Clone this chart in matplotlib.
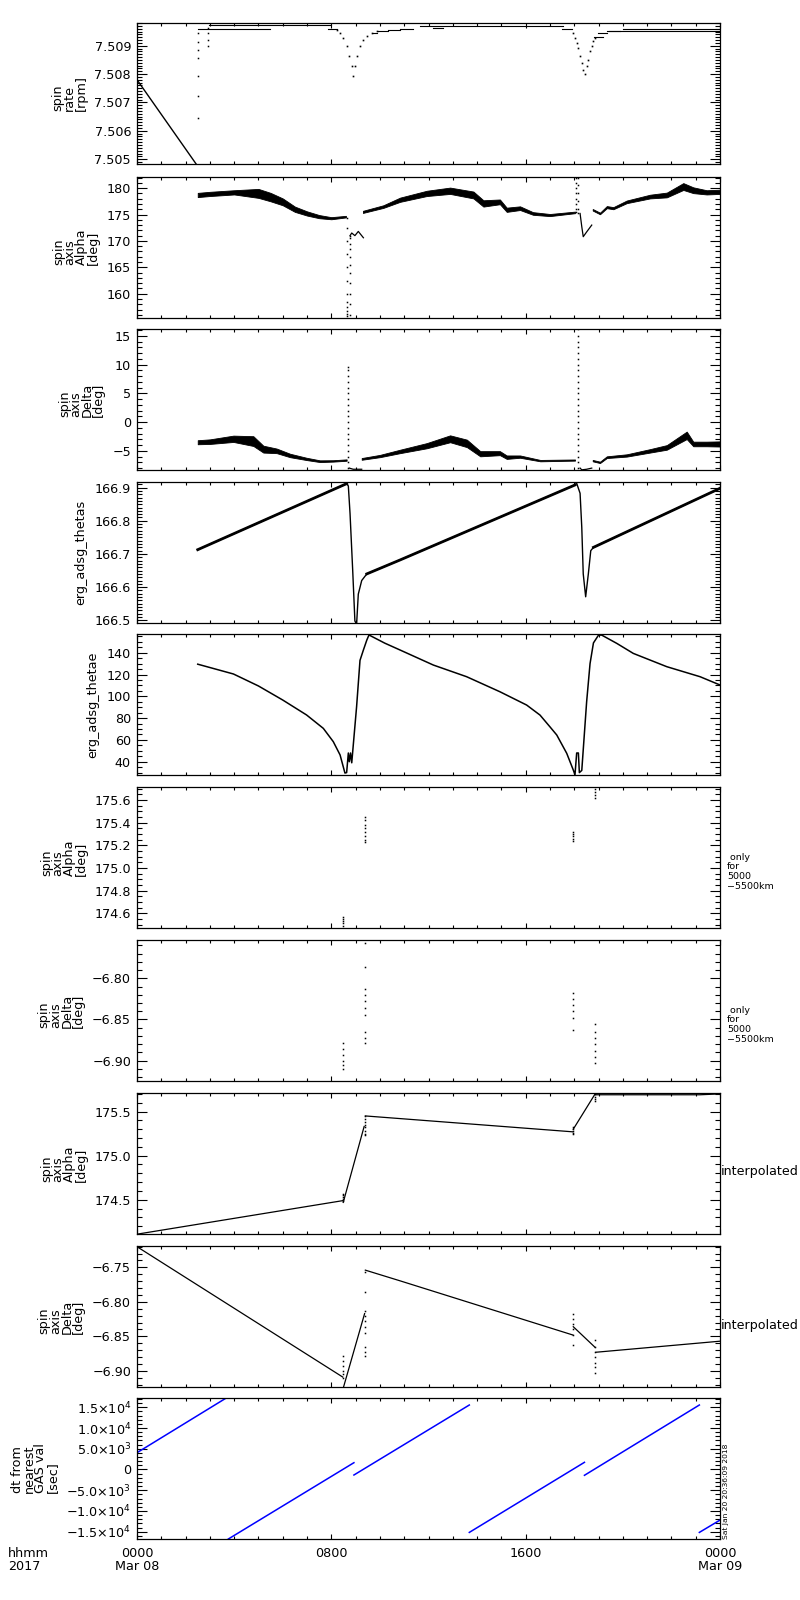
import numpy as np
import matplotlib
matplotlib.use('Agg')
import matplotlib.pyplot as plt
from matplotlib.ticker import MultipleLocator, FixedLocator, FuncFormatter

plt.rcParams['font.family'] = ['DejaVu Sans']
plt.rcParams['font.size'] = 9.2
plt.rcParams['axes.linewidth'] = 0.9

# ---------------- time axis (hours since 2017-03-08 00:00 UT) ----------------
x_major = [0, 8, 16, 24]
x_labels = ['0000\nMar 08', '0800', '1600', '0000\nMar 09']

# ---------------- panel 1 : spin rate [rpm] ----------------
rate_line_t = [0.0, 2.50]
rate_line_v = [7.5078, 7.50475]
rate_col1_t = 2.50
rate_col1_v = [7.50645, 7.50721, 7.50792, 7.50857, 7.50886, 7.50912, 7.50945]
rate_col2_t = 2.94
rate_col2_v = [7.50898, 7.50919, 7.50945, 7.50962]
rate_seg_t0 = [2.50, 2.98, 7.88, 9.73, 9.94, 10.35, 10.83, 12.20, 11.65, 17.48, 18.83, 18.99, 19.34, 19.45, 20.02]
rate_seg_t1 = [5.47, 8.00, 8.22, 9.87, 10.35, 10.83, 11.38, 12.60, 17.55, 17.89, 19.20, 19.34, 19.88, 24.00, 24.00]
rate_seg_v = [7.50958, 7.50972, 7.50958, 7.50945, 7.50953, 7.50956, 7.50958, 7.50962, 7.50971,
              7.50958, 7.50931, 7.50945, 7.50951, 7.50953, 7.50959]
rate_dip1_t = [8.22, 8.36, 8.49, 8.63, 8.74, 8.84, 8.90, 8.97, 9.07, 9.18, 9.32, 9.46, 9.66, 9.87]
rate_dip1_v = [7.50954, 7.50945, 7.50927, 7.50898, 7.50862, 7.50827, 7.50792, 7.50827, 7.50862,
               7.50898, 7.50921, 7.50935, 7.50945, 7.50953]
rate_dip2_t = [17.96, 18.03, 18.10, 18.17, 18.24, 18.31, 18.37, 18.44, 18.51, 18.58, 18.65, 18.72, 18.79, 18.86]
rate_dip2_v = [7.50945, 7.50927, 7.50910, 7.50892, 7.50862, 7.50839, 7.50815, 7.50801, 7.50827,
               7.50851, 7.50880, 7.50898, 7.50915, 7.50927]

# ---------------- panel 2 : spin axis Alpha [deg] ----------------
alpha_b1_t = [2.5, 3.0, 4.0, 5.0, 5.5, 6.0, 6.5, 7.0, 7.5, 8.0, 8.6]
alpha_b1_v = [178.7, 178.9, 179.2, 179.0, 178.3, 177.4, 176.0, 175.2, 174.6, 174.3, 174.6]
alpha_b1_w = [0.4, 0.4, 0.4, 0.85, 0.8, 0.65, 0.5, 0.4, 0.3, 0.2, 0.15]
alpha_b2_t = [9.30, 10.14, 10.83, 11.93, 12.89, 13.85, 14.26, 14.94, 15.22, 15.77, 16.30, 17.00, 18.03]
alpha_b2_v = [175.5, 176.5, 177.8, 179.0, 179.5, 178.7, 177.1, 177.4, 175.9, 176.2, 175.2, 174.9, 175.4]
alpha_b2_w = [0.2, 0.25, 0.4, 0.5, 0.6, 0.65, 0.6, 0.45, 0.4, 0.35, 0.25, 0.2, 0.15]
alpha_b3_t = [18.76, 19.06, 19.34, 19.61, 20.16, 21.12, 21.81, 22.49, 22.90, 23.45, 24.00]
alpha_b3_v = [175.9, 175.2, 176.4, 176.2, 177.4, 178.4, 178.7, 180.3, 179.6, 179.2, 179.3]
alpha_b3_w = [0.15, 0.15, 0.2, 0.2, 0.25, 0.35, 0.45, 0.65, 0.55, 0.4, 0.4]
alpha_k1_t = [8.77, 8.84, 8.97, 9.11, 9.32]
alpha_k1_v = [171.0, 171.5, 171.0, 171.8, 170.6]
alpha_k2_t = [18.24, 18.31, 18.37, 18.51, 18.72]
alpha_k2_v = [175.2, 172.7, 170.8, 171.7, 173.0]
alpha_s1a_t = 8.64
alpha_s1a_v = [174.3, 172.5, 170.0, 167.5, 165.0, 162.5, 160.0, 158.5, 157.5, 156.8, 156.2, 155.8]
alpha_s1b_t = 8.75
alpha_s1b_v = [156.0, 158.0, 160.0, 162.0, 164.0, 165.5, 167.0, 168.5, 169.5, 170.5, 171.0]
alpha_s2a_t = 18.08
alpha_s2a_v = [182.0, 181.0, 180.0, 179.0, 178.0, 177.0, 176.0, 175.4]
alpha_s2b_t = 18.17
alpha_s2b_v = [182.0, 180.5, 179.0, 177.5, 176.0, 175.2]

# ---------------- panel 3 : spin axis Delta [deg] ----------------
delta_b1_t = [2.5, 3.0, 3.97, 4.79, 5.2, 5.75, 6.3, 6.98, 7.53, 8.08, 8.63]
delta_b1_v = [-3.5, -3.4, -2.9, -3.3, -4.7, -5.0, -5.8, -6.4, -6.8, -6.75, -6.6]
delta_b1_w = [0.35, 0.4, 0.55, 0.85, 0.6, 0.4, 0.3, 0.2, 0.15, 0.12, 0.12]
delta_b2_t = [9.25, 10.0, 10.83, 11.93, 12.89, 13.58, 14.13, 14.94, 15.22, 15.77, 16.6, 18.03]
delta_b2_v = [-6.4, -5.9, -5.1, -4.1, -2.9, -3.7, -5.5, -5.4, -6.1, -6.0, -6.7, -6.6]
delta_b2_w = [0.15, 0.2, 0.3, 0.45, 0.6, 0.65, 0.45, 0.35, 0.3, 0.2, 0.12, 0.1]
delta_b3_t = [18.76, 19.06, 19.34, 20.16, 21.12, 21.81, 22.63, 22.90, 23.45, 24.00]
delta_b3_v = [-6.7, -7.0, -6.1, -5.8, -5.0, -4.4, -2.3, -3.8, -3.8, -3.8]
delta_b3_w = [0.12, 0.12, 0.15, 0.2, 0.3, 0.4, 0.65, 0.4, 0.4, 0.45]
delta_f1_t = [8.74, 8.90, 9.25]
delta_f1_v = [-8.0, -8.2, -8.2]
delta_f2_t = [18.24, 18.31, 18.51, 18.72]
delta_f2_v = [-8.0, -8.3, -8.2, -8.0]
delta_s1_t = 8.68
delta_s1_v = [9.6, 9.0, 8.0, 7.0, 6.0, 5.0, 4.0, 3.0, 2.0, 1.0, 0.0, -1.0, -2.0, -3.0, -4.0, -5.0, -6.0, -7.0, -8.0]
delta_s2_t = 18.14
delta_s2_v = [16.2, 15.0, 14.0, 13.0, 12.0, 11.0, 10.0, 9.0, 8.0, 7.0, 6.0, 5.0, 4.0, 3.0, 2.0, 1.0,
              0.0, -1.0, -2.0, -3.0, -4.0, -5.0, -6.0, -7.0, -8.0]

# ---------------- panel 4 : erg_adsg_thetas ----------------
thetas_t = [2.50, 8.63, 8.70, 8.77, 8.88, 8.97, 9.04, 9.11, 9.25, 9.46, 10.83, 18.03, 18.10, 18.24,
            18.31, 18.37, 18.47, 18.58, 18.68, 18.79, 24.00]
thetas_v = [166.713, 166.912, 166.905, 166.822, 166.650, 166.498, 166.488, 166.579, 166.620, 166.640,
            166.682, 166.908, 166.913, 166.883, 166.780, 166.640, 166.571, 166.640, 166.710, 166.720, 166.898]
thetas_thick = [(0, 1), (9, 11), (19, 20)]

# ---------------- panel 5 : erg_adsg_thetae ----------------
thetae_t = [2.50, 3.97, 5.00, 6.00, 6.98, 7.67, 8.08, 8.36, 8.56, 8.63, 8.70, 8.74, 8.79, 8.84, 9.04,
            9.18, 9.32, 9.46, 9.55, 10.20, 10.83, 12.20, 13.57, 14.94, 16.04, 16.59, 17.00, 17.28, 17.69,
            17.96, 18.03, 18.10, 18.17, 18.21, 18.31, 18.51, 18.65, 18.79, 19.00, 19.13, 19.75, 20.43,
            21.81, 23.18, 24.00]
thetae_v = [129.5, 120.5, 109.5, 96.6, 82.9, 70.6, 58.4, 46.2, 29.6, 30.0, 48.0, 40.0, 48.0, 39.0, 90.5,
            133.0, 142.5, 151.6, 156.3, 148.8, 142.5, 128.7, 118.0, 104.2, 92.0, 82.8, 72.0, 64.5, 47.7,
            32.4, 28.0, 48.0, 48.0, 30.0, 32.0, 95.0, 130.0, 149.0, 156.2, 156.2, 148.6, 139.4,
            127.2, 118.0, 110.4]

# ---------------- panel 6 / 7 : only for 5000-5500 km ----------------
oalpha_t = [8.47, 9.40, 17.94, 18.86]
oalpha_v = [[174.57, 174.55, 174.53, 174.51, 174.49],
            [175.45, 175.42, 175.38, 175.35, 175.32, 175.28, 175.25, 175.23],
            [175.32, 175.30, 175.28, 175.26, 175.24],
            [175.695, 175.67, 175.64, 175.62]]
odelta_t = [8.47, 9.40, 17.94, 18.86]
odelta_v = [[-6.879, -6.886, -6.893, -6.900, -6.905, -6.910],
            [-6.757, -6.786, -6.813, -6.820, -6.828, -6.836, -6.845, -6.865, -6.872, -6.879],
            [-6.818, -6.825, -6.832, -6.840, -6.848, -6.863],
            [-6.855, -6.865, -6.872, -6.880, -6.888, -6.895, -6.903]]

# ---------------- panel 8 : interpolated Alpha ----------------
ialpha_segs_t = [[0.0, 8.47], [8.49, 9.35], [9.40, 10.83, 17.94], [17.96, 18.86], [18.88, 23.18, 24.0]]
ialpha_segs_v = [[174.11, 174.49], [174.47, 175.33], [175.45, 175.42, 175.27], [175.30, 175.70],
                 [175.69, 175.69, 175.70]]

# ---------------- panel 9 : interpolated Delta ----------------
idelta_segs_t = [[0.0, 8.47], [8.49, 9.37], [9.40, 10.83, 17.94], [17.96, 18.86], [18.90, 24.0]]
idelta_segs_v = [[-6.720, -6.909], [-6.925, -6.817], [-6.754, -6.7695, -6.848], [-6.836, -6.866],
                 [-6.873, -6.857]]

# ---------------- panel 10 : dt from nearest GAS val [sec] ----------------
dt_segs_t = [[0.0, 3.69], [3.76, 8.93], [8.93, 13.68], [13.68, 18.42], [18.42, 23.15], [23.15, 24.0]]
dt_segs_v = [[4050, 17300], [-16760, 1640], [-1330, 15550], [-15170, 1730], [-1400, 15550], [-15170, -12200]]
dt_ticklabels = {15000: '1.5\u00d710$^{4}$', 10000: '1.0\u00d710$^{4}$', 5000: '5.0\u00d710$^{3}$', 0: '0',
                 -5000: '\u22125.0\u00d710$^{3}$', -10000: '\u22121.0\u00d710$^{4}$',
                 -15000: '\u22121.5\u00d710$^{4}$'}

# =====================================================================
W, H = 800, 1600
LEFT, RIGHT = 137, 720
tops = [23, 176.5, 329, 482, 634, 787, 940, 1093, 1246, 1398]
PH = 141

fig = plt.figure(figsize=(W / 100, H / 100), dpi=100)
axes = [fig.add_axes([LEFT / W, 1 - (T + PH) / H, (RIGHT - LEFT) / W, PH / H]) for T in tops]


def fmt_factory(spec):
    def f(v, pos):
        return (spec % v).replace('-', '\u2212')
    return f


def style(ax, ylim, major, minor, fmt, label, bottom=False):
    ax.set_xlim(0, 24)
    ax.set_ylim(*ylim)
    ax.xaxis.set_major_locator(FixedLocator(x_major))
    ax.xaxis.set_minor_locator(MultipleLocator(1))
    ax.yaxis.set_major_locator(MultipleLocator(major))
    ax.yaxis.set_minor_locator(MultipleLocator(minor))
    ax.tick_params(axis='both', which='both', direction='in', top=True, right=True, width=0.8)
    ax.tick_params(axis='y', which='major', length=7.2, pad=4.3)
    ax.tick_params(axis='y', which='minor', length=3.6)
    ax.tick_params(axis='x', which='major', length=3.6, pad=6)
    ax.tick_params(axis='x', which='minor', length=2.2)
    if callable(fmt):
        ax.yaxis.set_major_formatter(FuncFormatter(fmt))
    else:
        ax.yaxis.set_major_formatter(FuncFormatter(fmt_factory(fmt)))
    if bottom:
        ax.set_xticklabels(x_labels, linespacing=0.95)
    else:
        ax.set_xticklabels([])
    ax.set_ylabel(label, linespacing=0.85, labelpad=5, multialignment='left')


def dots(ax, t, vals, color='k'):
    ax.plot([t] * len(vals), vals, 's', ms=1.1, mew=0, color=color)


def band(ax, t, v, w):
    v = np.asarray(v)
    w = np.asarray(w)
    ax.fill_between(t, v - w, v + w, color='k', lw=0.6)


K = 'k'

# panel 1
ax = axes[0]
ax.plot(rate_line_t, rate_line_v, color=K, lw=1.0)
dots(ax, rate_col1_t, rate_col1_v)
dots(ax, rate_col2_t, rate_col2_v)
for a, b, v in zip(rate_seg_t0, rate_seg_t1, rate_seg_v):
    ax.plot([a, b], [v, v], color=K, lw=0.8)
ax.plot(rate_dip1_t, rate_dip1_v, 's', ms=1.2, mew=0, color=K)
ax.plot(rate_dip2_t, rate_dip2_v, 's', ms=1.2, mew=0, color=K)
style(ax, (7.50483, 7.5098), 0.001, 0.0001, '%.3f', 'spin\nrate\n[rpm]')

# panel 2
ax = axes[1]
band(ax, alpha_b1_t, alpha_b1_v, alpha_b1_w)
band(ax, alpha_b2_t, alpha_b2_v, alpha_b2_w)
band(ax, alpha_b3_t, alpha_b3_v, alpha_b3_w)
ax.plot(alpha_k1_t, alpha_k1_v, color=K, lw=0.9)
ax.plot(alpha_k2_t, alpha_k2_v, color=K, lw=0.9)
dots(ax, alpha_s1a_t, alpha_s1a_v)
dots(ax, alpha_s1b_t, alpha_s1b_v)
dots(ax, alpha_s2a_t, alpha_s2a_v)
dots(ax, alpha_s2b_t, alpha_s2b_v)
style(ax, (155.5, 182.2), 5, 1, '%d', 'spin\naxis\nAlpha\n[deg]')

# panel 3
ax = axes[2]
band(ax, delta_b1_t, delta_b1_v, delta_b1_w)
band(ax, delta_b2_t, delta_b2_v, delta_b2_w)
band(ax, delta_b3_t, delta_b3_v, delta_b3_w)
ax.plot(delta_f1_t, delta_f1_v, color=K, lw=0.9)
ax.plot(delta_f2_t, delta_f2_v, color=K, lw=0.9)
dots(ax, delta_s1_t, delta_s1_v)
dots(ax, delta_s2_t, delta_s2_v)
style(ax, (-8.33, 16.2), 5, 1, '%d', 'spin\naxis\nDelta\n[deg]')

# panel 4
ax = axes[3]
ax.plot(thetas_t, thetas_v, color=K, lw=1.0)
for i0, i1 in thetas_thick:
    ax.plot(thetas_t[i0:i1 + 1], thetas_v[i0:i1 + 1], color=K, lw=2.0)
style(ax, (166.492, 166.917), 0.1, 0.01, '%.1f', 'erg_adsg_thetas')

# panel 5
ax = axes[4]
ax.plot(thetae_t, thetae_v, color=K, lw=1.1)
style(ax, (27.8, 157.2), 20, 5, '%d', 'erg_adsg_thetae')

# panel 6
ax = axes[5]
for t, vals in zip(oalpha_t, oalpha_v):
    dots(ax, t, vals)
style(ax, (174.47, 175.715), 0.2, 0.05, '%.1f', 'spin\naxis\nAlpha\n[deg]')
ax.text(1.012, 0.40, ' only\nfor\n5000\n\u22125500km', transform=ax.transAxes, fontsize=6.8,
        va='center', ha='left', linespacing=1.1)

# panel 7
ax = axes[6]
for t, vals in zip(odelta_t, odelta_v):
    dots(ax, t, vals)
style(ax, (-6.9247, -6.7535), 0.05, 0.01, '%.2f', 'spin\naxis\nDelta\n[deg]')
ax.text(1.012, 0.40, ' only\nfor\n5000\n\u22125500km', transform=ax.transAxes, fontsize=6.8,
        va='center', ha='left', linespacing=1.1)

# panel 8
ax = axes[7]
for ts, vs in zip(ialpha_segs_t, ialpha_segs_v):
    ax.plot(ts, vs, color=K, lw=0.9)
for t, vals in zip(oalpha_t, oalpha_v):
    dots(ax, t, vals)
style(ax, (174.112, 175.71), 0.5, 0.1, '%.1f', 'spin\naxis\nAlpha\n[deg]')
ax.text(1.002, 0.443, 'interpolated', transform=ax.transAxes, fontsize=9.1, va='center', ha='left')

# panel 9
ax = axes[8]
for ts, vs in zip(idelta_segs_t, idelta_segs_v):
    ax.plot(ts, vs, color=K, lw=0.9)
for t, vals in zip(odelta_t, odelta_v):
    dots(ax, t, vals)
style(ax, (-6.9234, -6.719), 0.05, 0.01, '%.2f', 'spin\naxis\nDelta\n[deg]')
ax.text(1.002, 0.436, 'interpolated', transform=ax.transAxes, fontsize=9.1, va='center', ha='left')

# panel 10
ax = axes[9]
for ts, vs in zip(dt_segs_t, dt_segs_v):
    ax.plot(ts, vs, color='#0000ff', lw=1.1)
style(ax, (-16760, 17240), 5000, 1000,
      lambda v, p: dt_ticklabels.get(int(round(v)), ''), 'dt from\nnearest\nGAS val\n[sec]', bottom=True)

fig.text(8 / W, 1 - 1547 / H, 'hhmm\n2017', ha='left', va='top', linespacing=0.95)
fig.text(726 / W, 1 - 1539 / H, 'Sat Jan 20 20:36:09 2018', rotation=90, fontsize=5.4,
         ha='center', va='bottom')

fig.savefig('out.png', dpi=100)
